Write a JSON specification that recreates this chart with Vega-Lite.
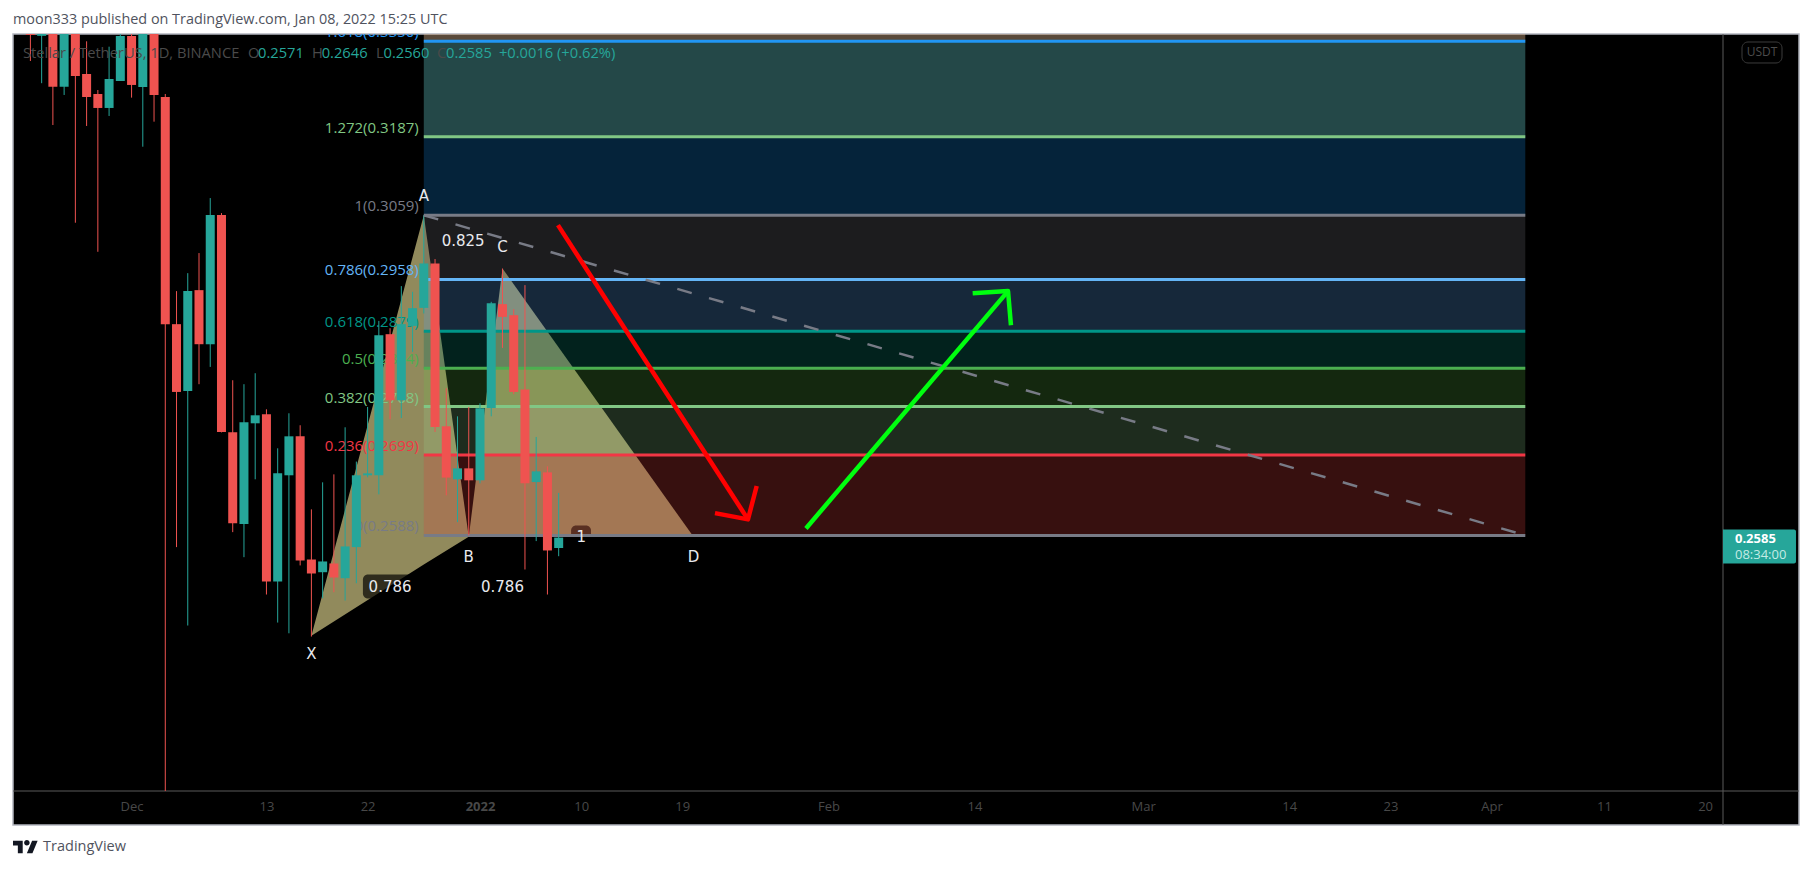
{
"$schema":"https://vega.github.io/schema/vega-lite/v6.json",
"width":1710,"height":757,
"autosize":{"type":"none"},
"padding":{"left":13,"top":34,"right":90,"bottom":79},
"background":"#ffffff",
"view":{"stroke":null,"fill":"#000000"},
"config":{"legend":{"disable":true},"font":"Open Sans"},
"title":{"text":"moon333 published on TradingView.com, Jan 08, 2022 15:25 UTC","anchor":"start","frame":"group","font":"Open Sans","fontSize":14.4,"fontWeight":"normal","color":"#50535e","offset":6},
"datasets":{
"frame":[{"date":"2021-11-20T10:50:00Z","date2":"2022-04-28T08:30:00Z","p":0.22248,"p2":0.33626}],
"hline":[{"date":"2021-11-20T10:50:00Z","date2":"2022-04-28T08:30:00Z","p":0.22646}],
"vline":[{"date":"2022-04-21T14:10:00Z","p":0.22248,"p2":0.33626}],
"bands":[
{"band":"top","date":"2021-12-27","date2":"2022-04-04","p":0.3350,"p2":0.345},
{"band":"1.272-1.618","date":"2021-12-27","date2":"2022-04-04","p":0.3187,"p2":0.3350},
{"band":"1-1.272","date":"2021-12-27","date2":"2022-04-04","p":0.3059,"p2":0.3187},
{"band":"0.786-1","date":"2021-12-27","date2":"2022-04-04","p":0.2958,"p2":0.3059},
{"band":"0.618-0.786","date":"2021-12-27","date2":"2022-04-04","p":0.2879,"p2":0.2958},
{"band":"0.5-0.618","date":"2021-12-27","date2":"2022-04-04","p":0.2824,"p2":0.2879},
{"band":"0.382-0.5","date":"2021-12-27","date2":"2022-04-04","p":0.2768,"p2":0.2824},
{"band":"0.236-0.382","date":"2021-12-27","date2":"2022-04-04","p":0.2699,"p2":0.2768},
{"band":"0-0.236","date":"2021-12-27","date2":"2022-04-04","p":0.2588,"p2":0.2699}
],
"fib":[
{"level":"1.618","label":"1.618(0.3350)","date":"2021-12-27","date2":"2022-04-04","p":0.3350},
{"level":"1.272","label":"1.272(0.3187)","date":"2021-12-27","date2":"2022-04-04","p":0.3187},
{"level":"1","label":"1(0.3059)","date":"2021-12-27","date2":"2022-04-04","p":0.3059},
{"level":"0.786","label":"0.786(0.2958)","date":"2021-12-27","date2":"2022-04-04","p":0.2958},
{"level":"0.618","label":"0.618(0.2879)","date":"2021-12-27","date2":"2022-04-04","p":0.2879},
{"level":"0.5","label":"0.5(0.2824)","date":"2021-12-27","date2":"2022-04-04","p":0.2824},
{"level":"0.382","label":"0.382(0.2768)","date":"2021-12-27","date2":"2022-04-04","p":0.2768},
{"level":"0.236","label":"0.236(0.2699)","date":"2021-12-27","date2":"2022-04-04","p":0.2699},
{"level":"0","label":"0(0.2588)","date":"2021-12-27","date2":"2022-04-04","p":0.2588}
],
"xab":[
{"date":"2021-12-17","p":0.2456,"p2":0.2456},
{"date":"2021-12-27","p":0.3059,"p2":0.2549},
{"date":"2021-12-31","p":0.2586,"p2":0.2586}
],
"bcd":[
{"date":"2021-12-31","p":0.2586,"p2":0.2586},
{"date":"2022-01-03","p":0.2975,"p2":0.2586},
{"date":"2022-01-20","p":0.2586,"p2":0.2586}
],
"candles":[
{"date":"2021-11-22","open":0.345,"high":0.35,"low":0.33155,"close":0.3361,"dir":"down"},
{"date":"2021-11-23","open":0.33594,"high":0.345,"low":0.32773,"close":0.34,"dir":"up"},
{"date":"2021-11-24","open":0.345,"high":0.35,"low":0.32065,"close":0.32713,"dir":"down"},
{"date":"2021-11-25","open":0.32713,"high":0.35,"low":0.32572,"close":0.345,"dir":"up"},
{"date":"2021-11-26","open":0.345,"high":0.35,"low":0.3047,"close":0.32897,"dir":"down"},
{"date":"2021-11-27","open":0.32931,"high":0.33498,"low":0.32049,"close":0.32538,"dir":"down"},
{"date":"2021-11-28","open":0.32589,"high":0.32657,"low":0.30011,"close":0.32352,"dir":"down"},
{"date":"2021-11-29","open":0.32352,"high":0.33404,"low":0.32217,"close":0.32845,"dir":"up"},
{"date":"2021-11-30","open":0.32811,"high":0.345,"low":0.32811,"close":0.33591,"dir":"up"},
{"date":"2021-12-01","open":0.33591,"high":0.345,"low":0.32527,"close":0.32743,"dir":"down"},
{"date":"2021-12-02","open":0.32708,"high":0.345,"low":0.31704,"close":0.34,"dir":"up"},
{"date":"2021-12-03","open":0.345,"high":0.35,"low":0.32121,"close":0.32572,"dir":"down"},
{"date":"2021-12-04","open":0.32538,"high":0.32589,"low":0.2262,"close":0.28898,"dir":"down"},
{"date":"2021-12-05","open":0.28898,"high":0.29401,"low":0.25722,"close":0.27893,"dir":"down"},
{"date":"2021-12-06","open":0.27908,"high":0.29678,"low":0.2469,"close":0.29401,"dir":"up"},
{"date":"2021-12-07","open":0.29416,"high":0.29991,"low":0.28006,"close":0.28597,"dir":"down"},
{"date":"2021-12-08","open":0.28597,"high":0.30865,"low":0.2826,"close":0.30592,"dir":"up"},
{"date":"2021-12-09","open":0.30592,"high":0.30624,"low":0.2731,"close":0.27316,"dir":"down"},
{"date":"2021-12-10","open":0.27312,"high":0.28064,"low":0.25924,"close":0.26046,"dir":"down"},
{"date":"2021-12-11","open":0.26033,"high":0.28006,"low":0.25587,"close":0.27454,"dir":"up"},
{"date":"2021-12-12","open":0.2744,"high":0.28167,"low":0.26649,"close":0.27555,"dir":"up"},
{"date":"2021-12-13","open":0.27569,"high":0.27641,"low":0.25093,"close":0.25264,"dir":"down"},
{"date":"2021-12-14","open":0.25264,"high":0.27084,"low":0.24728,"close":0.26732,"dir":"up"},
{"date":"2021-12-15","open":0.26705,"high":0.27584,"low":0.2459,"close":0.27254,"dir":"up"},
{"date":"2021-12-16","open":0.27254,"high":0.27412,"low":0.25477,"close":0.25543,"dir":"down"},
{"date":"2021-12-17","open":0.25556,"high":0.26234,"low":0.24548,"close":0.2537,"dir":"down"},
{"date":"2021-12-18","open":0.25387,"high":0.26607,"low":0.25044,"close":0.2553,"dir":"up"},
{"date":"2021-12-19","open":0.25503,"high":0.26718,"low":0.25123,"close":0.25317,"dir":"down"},
{"date":"2021-12-20","open":0.25308,"high":0.27383,"low":0.25014,"close":0.25731,"dir":"up"},
{"date":"2021-12-21","open":0.25722,"high":0.26897,"low":0.25241,"close":0.26705,"dir":"up"},
{"date":"2021-12-22","open":0.26705,"high":0.27675,"low":0.26677,"close":0.26732,"dir":"up"},
{"date":"2021-12-23","open":0.26705,"high":0.28947,"low":0.26441,"close":0.28732,"dir":"up"},
{"date":"2021-12-24","open":0.28747,"high":0.28837,"low":0.27497,"close":0.27772,"dir":"down"},
{"date":"2021-12-25","open":0.27772,"high":0.29478,"low":0.27516,"close":0.28898,"dir":"up"},
{"date":"2021-12-26","open":0.28872,"high":0.2939,"low":0.28483,"close":0.2914,"dir":"up"},
{"date":"2021-12-27","open":0.29145,"high":0.3059,"low":0.2906,"close":0.29829,"dir":"up"},
{"date":"2021-12-28","open":0.29829,"high":0.29897,"low":0.27316,"close":0.27387,"dir":"down"},
{"date":"2021-12-29","open":0.27397,"high":0.27947,"low":0.26427,"close":0.26673,"dir":"down"},
{"date":"2021-12-30","open":0.26649,"high":0.2754,"low":0.2606,"close":0.26802,"dir":"up"},
{"date":"2021-12-31","open":0.26802,"high":0.27675,"low":0.2588,"close":0.26635,"dir":"down"},
{"date":"2022-01-01","open":0.26635,"high":0.27728,"low":0.26593,"close":0.27656,"dir":"up"},
{"date":"2022-01-02","open":0.2766,"high":0.29237,"low":0.2754,"close":0.29217,"dir":"up"},
{"date":"2022-01-03","open":0.29202,"high":0.2975,"low":0.28542,"close":0.29008,"dir":"down"},
{"date":"2022-01-04","open":0.29034,"high":0.29125,"low":0.2786,"close":0.27893,"dir":"down"},
{"date":"2022-01-05","open":0.27928,"high":0.29493,"low":0.25423,"close":0.26593,"dir":"down"},
{"date":"2022-01-06","open":0.26611,"high":0.27245,"low":0.25803,"close":0.2676,"dir":"up"},
{"date":"2022-01-07","open":0.26746,"high":0.2683,"low":0.25093,"close":0.25677,"dir":"down"},
{"date":"2022-01-08","open":0.2571,"high":0.2646,"low":0.256,"close":0.2585,"dir":"up"}
],
"dashed":[{"date":"2021-12-27","p":0.3059},{"date":"2022-04-04","p":0.2588}],
"arrows":[
{"arrow":"red","seg":"shaft","i":0,"date":"2022-01-07T22:30:00Z","p":0.30432},
{"arrow":"red","seg":"shaft","i":1,"date":"2022-01-24T20:10:00Z","p":0.26097},
{"arrow":"red","seg":"head","i":0,"date":"2022-01-21T21:45:00Z","p":0.26183},
{"arrow":"red","seg":"head","i":1,"date":"2022-01-24T20:10:00Z","p":0.26097},
{"arrow":"red","seg":"head","i":2,"date":"2022-01-25T14:50:00Z","p":0.26556},
{"arrow":"green","seg":"shaft","i":0,"date":"2022-01-30T00:00:00Z","p":0.25974},
{"arrow":"green","seg":"shaft","i":1,"date":"2022-02-16T23:30:00Z","p":0.29401},
{"arrow":"green","seg":"head","i":0,"date":"2022-02-13T20:00:00Z","p":0.2937},
{"arrow":"green","seg":"head","i":1,"date":"2022-02-16T23:30:00Z","p":0.29401},
{"arrow":"green","seg":"head","i":2,"date":"2022-02-17T05:45:00Z","p":0.28882}
],
"pointLabels":[
{"t":"A","date":"2021-12-27","p":0.30897},
{"t":"C","date":"2022-01-03","p":0.30085},
{"t":"X","date":"2021-12-17","p":0.24331},
{"t":"B","date":"2021-12-31","p":0.25596},
{"t":"D","date":"2022-01-20","p":0.25596},
{"t":"0.825","date":"2021-12-30T12:00:00Z","p":0.30179},
{"t":"0.786","date":"2021-12-24","p":0.25198},
{"t":"0.786","date":"2022-01-03","p":0.25198},
{"t":"1","date":"2022-01-10","p":0.25852}
],
"legendText":[
{"t":"Stellar / TetherUS, 1D, BINANCE","kind":"name","date":"2021-11-21T08:00:00Z","p":0.33282},
{"t":"O","kind":"name","date":"2021-12-11T08:40:00Z","p":0.33282},
{"t":"0.2571","kind":"value","date":"2021-12-12T06:00:00Z","p":0.33282},
{"t":"H","kind":"name","date":"2021-12-17T01:15:00Z","p":0.33282},
{"t":"0.2646","kind":"value","date":"2021-12-17T22:00:00Z","p":0.33282},
{"t":"L","kind":"name","date":"2021-12-22T18:00:00Z","p":0.33282},
{"t":"0.2560","kind":"value","date":"2021-12-23T10:00:00Z","p":0.33282},
{"t":"C","kind":"name","date":"2021-12-28T04:00:00Z","p":0.33282},
{"t":"0.2585","kind":"value","date":"2021-12-28T23:30:00Z","p":0.33282},
{"t":"+0.0016 (+0.62%)","kind":"value","date":"2022-01-02T16:30:00Z","p":0.33282}
]
},
"encoding":{
"x":{"field":"date","type":"temporal","title":null,
"scale":{"type":"utc","padding":0,"domain":[{"year":2021,"month":"nov","date":20,"hours":10,"minutes":50,"utc":true},{"year":2022,"month":"apr","date":21,"hours":14,"minutes":10,"utc":true}]},
"axis":{"orient":"bottom","zindex":1,"grid":false,"domain":false,"ticks":false,"labelOverlap":false,"labelBound":false,"labelFlush":false,"labelAngle":0,"labelPadding":9,"labelFont":"Open Sans","labelFontSize":13,"labelColor":"#484848",
"values":[{"year":2021,"month":"dec","date":1,"utc":true},{"year":2021,"month":"dec","date":13,"utc":true},{"year":2021,"month":"dec","date":22,"utc":true},{"year":2022,"month":"jan","date":1,"utc":true},{"year":2022,"month":"jan","date":10,"utc":true},{"year":2022,"month":"jan","date":19,"utc":true},{"year":2022,"month":"feb","date":1,"utc":true},{"year":2022,"month":"feb","date":14,"utc":true},{"year":2022,"month":"mar","date":1,"utc":true},{"year":2022,"month":"mar","date":14,"utc":true},{"year":2022,"month":"mar","date":23,"utc":true},{"year":2022,"month":"apr","date":1,"utc":true},{"year":2022,"month":"apr","date":11,"utc":true},{"year":2022,"month":"apr","date":20,"utc":true}],
"labelExpr":"utcdate(datum.value)==1 ? (utcmonth(datum.value)==0 ? '2022' : utcFormat(datum.value,'%b')) : ''+utcdate(datum.value)",
"labelFontWeight":{"condition":{"test":"utcmonth(datum.value)==0 && utcdate(datum.value)==1","value":"bold"},"value":"normal"}}},
"y":{"field":"p","type":"quantitative","title":null,
"scale":{"type":"log","base":10,"domain":[0.22646,0.33626],"nice":false,"zero":false},
"axis":{"orient":"right","zindex":1,"grid":false,"domain":false,"ticks":false,"labelOverlap":false,"labelBound":false,"labelFlush":false,"labelPadding":12,"labelFont":"Open Sans","labelFontSize":13,"labelColor":"#484848","format":".4f",
"values":[0.33,0.32,0.31,0.30,0.29,0.28,0.27,0.265,0.253,0.247,0.242,0.237,0.2325,0.228]}}
},
"resolve":{"scale":{"color":"independent"}},
"layer":[
{"data":{"name":"frame"},"mark":{"type":"rect","fill":"#000000","stroke":"#b2b5be","strokeWidth":1.5,"clip":false},"encoding":{"x2":{"field":"date2"},"y2":{"field":"p2"}}},
{"data":{"name":"hline"},"mark":{"type":"rule","color":"#5a5a5a","strokeWidth":1,"clip":false},"encoding":{"x2":{"field":"date2"}}},
{"data":{"name":"vline"},"mark":{"type":"rule","color":"#5a5a5a","strokeWidth":1,"clip":false},"encoding":{"y2":{"field":"p2"}}},
{"data":{"name":"xab"},"mark":{"type":"area","color":"#f2e699","opacity":0.6,"line":false},"encoding":{"y2":{"field":"p2"}}},
{"data":{"name":"bcd"},"mark":{"type":"area","color":"#f2e699","opacity":0.6,"line":false},"encoding":{"y2":{"field":"p2"}}},
{"data":{"values":[{"date":"2021-12-21T14:00:00Z","date2":"2021-12-26T09:30:00Z","p":0.2504,"p2":0.25357}]},"mark":{"type":"rect","color":"#000000","opacity":0.68,"cornerRadius":5},"encoding":{"x2":{"field":"date2"},"y2":{"field":"p2"}}},
{"data":{"name":"bands"},"mark":{"type":"rect","clip":true},"encoding":{"x2":{"field":"date2"},"y2":{"field":"p2"},
"color":{"field":"band","type":"nominal","scale":{"domain":["top","1.272-1.618","1-1.272","0.786-1","0.618-0.786","0.5-0.618","0.382-0.5","0.236-0.382","0-0.236"],"range":["rgba(225,185,145,0.4)","rgba(120,240,240,0.3)","rgba(17,117,193,0.3)","rgba(93,93,100,0.3)","rgba(88,160,232,0.25)","rgba(7,113,97,0.3)","rgba(100,200,75,0.2)","rgba(150,220,150,0.2)","rgba(220,64,60,0.25)"]}}}},
{"data":{"values":[{"date":"2022-01-09T02:30:00Z","date2":"2022-01-10T21:00:00Z","p":0.2588,"p2":0.26015}]},"mark":{"type":"rect","color":"#5a3022","cornerRadiusTopLeft":5,"cornerRadiusTopRight":5},"encoding":{"x2":{"field":"date2"},"y2":{"field":"p2"}}},
{"data":{"name":"fib"},"mark":{"type":"rule","strokeWidth":3,"clip":true},"encoding":{"x2":{"field":"date2"},
"color":{"field":"level","type":"nominal","scale":{"domain":["1.618","1.272","1","0.786","0.618","0.5","0.382","0.236","0"],"range":["#2196f3","#81c784","#787b86","#64b5f6","#009688","#4caf50","#81c784","#f23645","#787b86"]}}}},
{"data":{"name":"fib"},"mark":{"type":"text","align":"right","baseline":"bottom","dx":-5,"dy":-1,"clip":true,"font":"Open Sans","fontSize":15},"encoding":{"text":{"field":"label"},
"color":{"field":"level","type":"nominal","scale":{"domain":["1.618","1.272","1","0.786","0.618","0.5","0.382","0.236","0"],"range":["#2196f3","#81c784","#787b86","#64b5f6","#009688","#4caf50","#81c784","#f23645","#787b86"]}}}},
{"data":{"name":"candles"},"mark":{"type":"rule","strokeWidth":1,"clip":true},"encoding":{"y":{"field":"low","type":"quantitative","axis":null},"y2":{"field":"high"},
"color":{"field":"dir","type":"nominal","scale":{"domain":["up","down"],"range":["#26a69a","#ef5350"]}}}},
{"data":{"name":"candles"},"mark":{"type":"bar","size":9,"clip":true},"encoding":{"y":{"field":"open","type":"quantitative","axis":null,"stack":null},"y2":{"field":"close"},
"color":{"field":"dir","type":"nominal","scale":{"domain":["up","down"],"range":["#26a69a","#ef5350"]}}}},
{"data":{"name":"dashed"},"mark":{"type":"line","color":"#787b86","strokeWidth":2.5,"strokeDash":[15,18]}},
{"data":{"name":"arrows"},"mark":{"type":"line","strokeWidth":4.5,"strokeCap":"butt","strokeJoin":"round"},"encoding":{"detail":{"field":"seg"},"order":{"field":"i"},
"color":{"field":"arrow","type":"nominal","scale":{"domain":["red","green"],"range":["#ff0000","#00ff0f"]}}}},
{"data":{"name":"pointLabels"},"mark":{"type":"text","font":"DejaVu Sans","fontSize":15,"color":"#e8e9ee"},"encoding":{"text":{"field":"t"}}},
{"data":{"name":"legendText"},"mark":{"type":"text","align":"left","font":"Open Sans","fontSize":14.7,"clip":false},"encoding":{"text":{"field":"t"},
"color":{"field":"kind","type":"nominal","scale":{"domain":["name","value"],"range":["#4a4a4a","#26a69a"]}}}},
{"data":{"values":[{"date":"2022-04-23T06:45:00Z","date2":"2022-04-26T20:10:00Z","p":0.33121,"p2":0.33486}]},"mark":{"type":"rect","fill":null,"stroke":"#3c3c3c","strokeWidth":1,"cornerRadius":6,"clip":false},"encoding":{"x2":{"field":"date2"},"y2":{"field":"p2"}}},
{"data":{"values":[{"t":"USDT","date":"2022-04-25T01:30:00Z","p":0.33311}]},"mark":{"type":"text","font":"Open Sans","fontSize":12,"color":"#4c4c4c"},"encoding":{"text":{"field":"t"}}},
{"data":{"values":[{"date":"2022-04-21T14:10:00Z","date2":"2022-04-28T02:00:00Z","p":0.25503,"p2":0.2596}]},"mark":{"type":"rect","color":"#26a69a","cornerRadiusTopRight":2,"cornerRadiusBottomRight":2,"clip":false},"encoding":{"x2":{"field":"date2"},"y2":{"field":"p2"}}},
{"data":{"values":[{"t":"0.2585","date":"2022-04-22T15:40:00Z","p":0.25825}]},"mark":{"type":"text","align":"left","font":"Open Sans","fontSize":13,"fontWeight":"bold","color":"#ffffff"},"encoding":{"text":{"field":"t"}}},
{"data":{"values":[{"t":"08:34:00","date":"2022-04-22T15:40:00Z","p":0.2561}]},"mark":{"type":"text","align":"left","font":"Open Sans","fontSize":13,"color":"#c4ebe5"},"encoding":{"text":{"field":"t"}}},
{"data":{"values":[{"date":"2021-11-21T13:30:00Z","p":0.21994}]},"mark":{"type":"point","filled":true,"opacity":1,"color":"#131722","size":625,"clip":false,"shape":"M-.222 .5H-.611V-.111H-1V-.5H-.222ZM.556 .5H.111L.528 -.5H.972ZM-.111 -.333a.222 .222 0 1 0 .444 0a.222 .222 0 1 0 -.444 0Z"}},
{"data":{"values":[{"t":"TradingView","date":"2021-11-23T03:00:00Z","p":0.21994}]},"mark":{"type":"text","align":"left","font":"Open Sans","fontSize":14.5,"color":"#50535e"},"encoding":{"text":{"field":"t"}}}
]
}
